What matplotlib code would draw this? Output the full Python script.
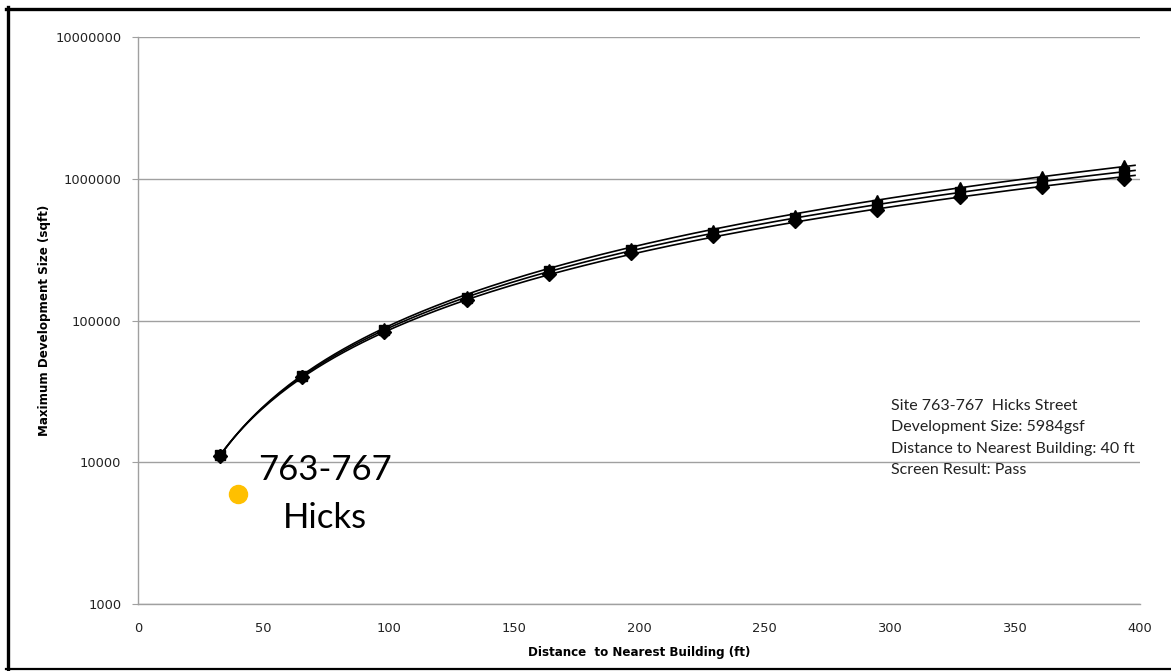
import matplotlib
matplotlib.use("Agg")
import matplotlib.pyplot as plt
from matplotlib.lines import Line2D
import numpy as np

# distance to nearest building (ft), 10 m steps
distance_ft = [32.8, 65.6, 98.4, 131.2, 164.0, 196.8, 229.6, 262.4, 295.2, 328.0, 360.8, 393.6]

# maximum development size (sqft) for the three curves
size_low = [11000, 40000, 83000, 140000, 213000, 300000, 395000, 500000, 603000, 745000, 880000, 1000000]
size_mid = [11200, 40500, 86000, 145000, 222000, 313000, 413000, 525000, 653000, 810000, 953000, 1120000]
size_high = [11400, 41000, 88000, 150000, 232000, 327000, 432000, 553000, 708000, 880000, 1045000, 1250000]

site_distance = 40
site_size = 5984
site_label = "763-767\nHicks"
site_info = ("Site 763-767  Hicks Street\n"
             "Development Size: 5984gsf\n"
             "Distance to Nearest Building: 40 ft\n"
             "Screen Result: Pass")

x_ticks = [0, 50, 100, 150, 200, 250, 300, 350, 400]
y_ticks = [1000, 10000, 100000, 1000000, 10000000]

W, H = 1171, 671
fig = plt.figure(figsize=(W / 100, H / 100), dpi=100)
ax = fig.add_axes([138 / W, 1 - 604 / H, (1140 - 138) / W, (604 - 37) / H])

grid_col = "#a0a0a0"
ax.set_yscale("log")
ax.set_xlim(0, 400)
ax.set_ylim(1000, 10000000)
ax.yaxis.grid(True, color=grid_col, lw=1.0)
ax.set_axisbelow(True)

# smooth power-law trend through each series, markers at data points
x_fit = np.linspace(distance_ft[0], 398, 200)
for ys, mk, ms, z in [(size_low, "D", 7, 4), (size_high, "^", 7, 4), (size_mid, "s", 7.5, 5)]:
    k, b = np.polyfit(np.log(distance_ft), np.log(ys), 1)
    ax.plot(x_fit, np.exp(b) * x_fit ** k, color="black", lw=1.2, zorder=3)
    ax.plot(distance_ft, ys, linestyle="none", marker=mk, color="black",
            markersize=ms, zorder=z)

ax.plot([site_distance], [site_size], marker="o", color="#FFC000",
        markersize=13, linestyle="none", zorder=6)
ax.text(74.5, site_size, site_label, fontsize=25, family="Lato",
        ha="center", va="center", linespacing=1.6, color="black")
ax.text(0.7515, 0.361, site_info, transform=ax.transAxes, fontsize=11.5,
        family="Lato", ha="left", va="top", linespacing=1.65, color="#222222")

ax.set_xticks(x_ticks)
ax.set_yticks(y_ticks)
ax.set_yticklabels([str(v) for v in y_ticks])
ax.yaxis.set_minor_locator(matplotlib.ticker.NullLocator())
ax.tick_params(axis="x", length=0, pad=13, labelsize=9.4, labelcolor="#222222")
ax.tick_params(axis="y", length=4, color=grid_col, pad=8, labelsize=9.4,
               labelcolor="#222222")

for side in ["top", "right"]:
    ax.spines[side].set_visible(False)
for side in ["left", "bottom"]:
    ax.spines[side].set_color(grid_col)
    ax.spines[side].set_linewidth(1.0)

ax.set_xlabel("Distance  to Nearest Building (ft)", fontsize=8.6,
              fontweight="bold", labelpad=8)
ax.set_ylabel("Maximum Development Size (sqft)", fontsize=8.6,
              fontweight="bold", labelpad=3)

# page border around the chart
fig.add_artist(Line2D([7.5 / W, 7.5 / W], [0, 1 - 7 / H], color="black",
                      lw=2.4, transform=fig.transFigure))
fig.add_artist(Line2D([6 / W, 1], [1 - 8.5 / H, 1 - 8.5 / H], color="black",
                      lw=2.4, transform=fig.transFigure))
fig.add_artist(Line2D([6 / W, 1], [1 - 669 / H, 1 - 669 / H], color="black",
                      lw=1.6, transform=fig.transFigure))

fig.savefig("out.png", dpi=100)
